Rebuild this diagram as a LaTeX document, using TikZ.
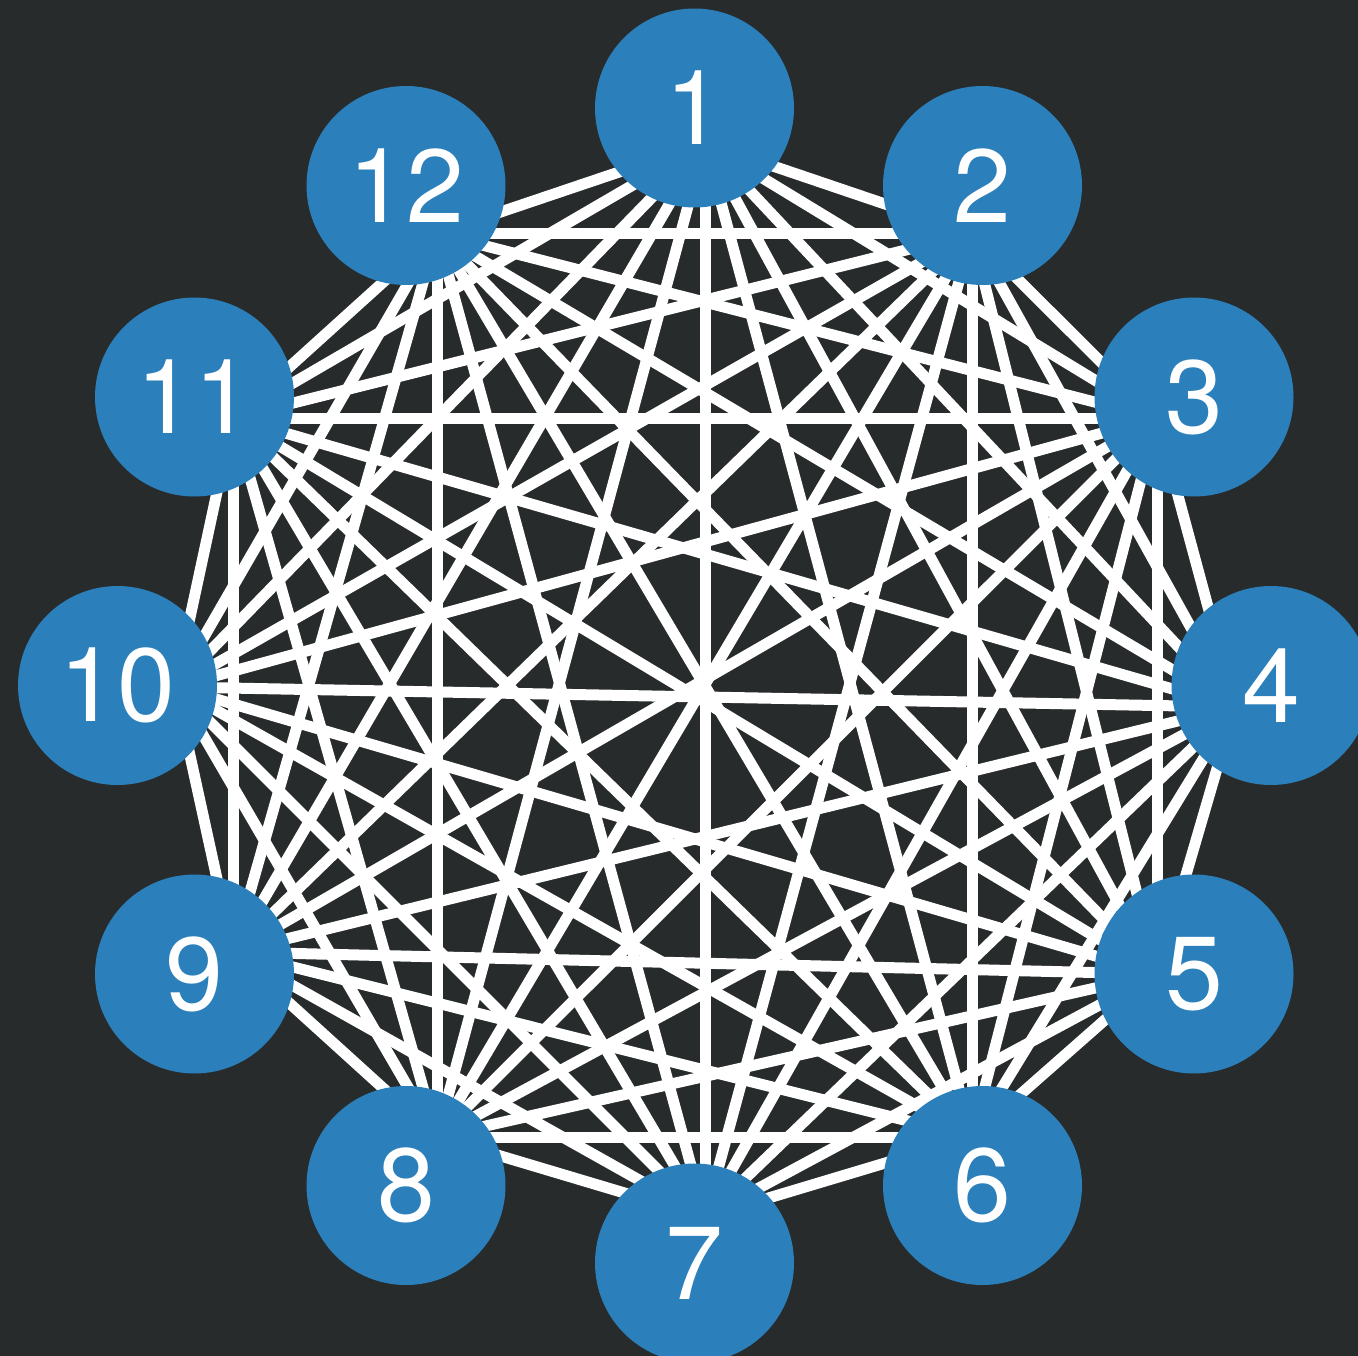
\documentclass[tikz,border=0pt]{standalone}
\usepackage{fontspec}
\setmainfont{TeX Gyre Heros}
\definecolor{bg}{HTML}{272B2C}
\definecolor{nodeblue}{HTML}{2B7FBA}
\begin{document}
\begin{tikzpicture}[x=1pt,y=-1pt,
  vtx/.style={circle, fill=nodeblue, minimum size=199pt, inner sep=0pt, text=white,
    font=\fontsize{104}{104}\selectfont},
  edge/.style={draw=white, line width=11pt}]
\fill[bg] (0,0) rectangle (1358,1356);
\useasboundingbox (0,0) rectangle (1358,1356);
% edge anchor points
\coordinate (a1) at (705,143);
\coordinate (a2) at (972,233.5);
\coordinate (a3) at (1157,418);
\coordinate (a4) at (1235,707);
\coordinate (a5) at (1157,974);
\coordinate (a6) at (972,1137);
\coordinate (a7) at (705,1217);
\coordinate (a8) at (437,1137);
\coordinate (a9) at (233,952);
\coordinate (a10) at (175,687);
\coordinate (a11) at (233,418);
\coordinate (a12) at (437,233.5);
% complete graph edges
\foreach \i in {1,...,11}{
  \pgfmathtruncatemacro\nxt{\i+1}
  \foreach \j in {\nxt,...,12}{
    \draw[edge] (a\i) -- (a\j);
  }
}
% nodes
\node[vtx] (n1) at (694.5,108) {1};
\node[vtx] (n2) at (982.5,185.5) {2};
\node[vtx] (n3) at (1194,397) {3};
\node[vtx] (n4) at (1271,685.5) {4};
\node[vtx] (n5) at (1194,974) {5};
\node[vtx] (n6) at (982.5,1185.5) {6};
\node[vtx] (n7) at (694.5,1263) {7};
\node[vtx] (n8) at (406,1185.5) {8};
\node[vtx] (n9) at (194.5,974) {9};
\node[vtx] (n10) at (117.5,685.5) {10};
\node[vtx] (n11) at (194.5,397) {11};
\node[vtx] (n12) at (406,185.5) {12};
\end{tikzpicture}
\end{document}
